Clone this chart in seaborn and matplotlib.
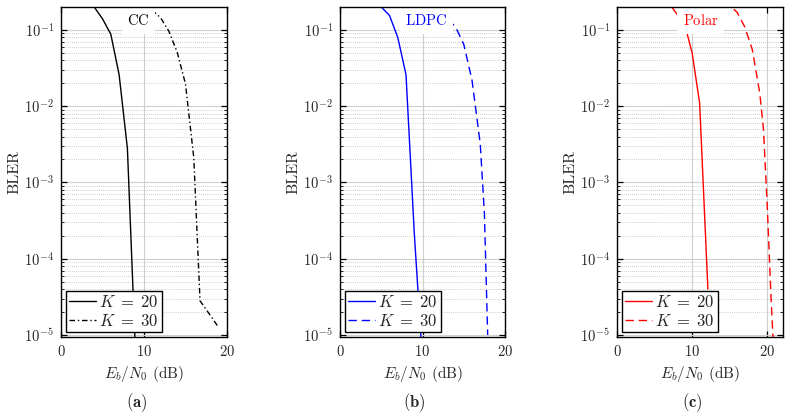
import numpy as np
import pandas as pd
import seaborn as sns
import matplotlib.pyplot as plt

# data (Eb/N0 in dB, BLER)
cc_k20_snr = [3, 4, 5, 6, 7, 8, 9]
cc_k20_bler = [0.4, 0.2, 0.14, 0.088, 0.026, 2.8e-3, 5e-6]
cc_k30_snr = [10, 11, 12, 13, 14, 15, 16, 16.75, 18, 19]
cc_k30_bler = [0.28, 0.18, 0.145, 0.096, 0.051, 0.0195, 2.1e-3, 2.8e-5, 1.8e-5, 1.25e-5]

ldpc_k20_snr = [4, 5, 6, 7, 8, 9, 10]
ldpc_k20_bler = [0.3, 0.2, 0.155, 0.08, 0.026, 2.2e-4, 4.5e-6]
ldpc_k30_snr = [11, 12, 13, 14, 15, 16, 17, 17.5, 17.9]
ldpc_k30_bler = [0.25, 0.18, 0.14, 0.11, 0.065, 0.022, 3.2e-3, 4e-4, 1e-5]

polar_k20_snr = [6, 7, 8, 9, 10, 11, 12.1]
polar_k20_bler = [0.35, 0.22, 0.16, 0.12, 0.05, 0.011, 4e-5]
polar_k30_snr = [14, 15, 16, 17, 18, 19, 19.5, 20, 20.5, 20.8]
polar_k30_bler = [0.3, 0.21, 0.17, 0.11, 0.056, 0.015, 5e-3, 5e-4, 3.2e-5, 8e-6]

codes = ['CC', 'LDPC', 'Polar']
colors = ['black', 'blue', 'red']
captions = ['a', 'b', 'c']
xmax = [20, 20, 22.1]
label_x = [8.0, 7.9, 8.75]

sns.set_theme(context='paper', style='ticks')
plt.rcParams['font.family'] = ['cmr10', 'DejaVu Serif']
plt.rcParams['mathtext.fontset'] = 'cm'
plt.rcParams['axes.formatter.use_mathtext'] = True
plt.rcParams['axes.unicode_minus'] = True

fig = plt.figure(figsize=(7.92, 4.2), dpi=100)
W, H = 792, 420
boxes = [(61, 227), (340, 505), (617, 783)]
top_px, bot_px = 7, 337

series = [
    (cc_k20_snr, cc_k20_bler, cc_k30_snr, cc_k30_bler, (0, (4, 2, 1, 2))),
    (ldpc_k20_snr, ldpc_k20_bler, ldpc_k30_snr, ldpc_k30_bler, (0, (6, 3.5))),
    (polar_k20_snr, polar_k20_bler, polar_k30_snr, polar_k30_bler, (0, (6, 3.5))),
]
caption_px = [137, 414, 692]

for i, (x1, y1, x2, y2, ls2) in enumerate(series):
    l, r = boxes[i]
    ax = fig.add_axes([l / W, (H - bot_px) / H, (r - l) / W, (bot_px - top_px) / H])
    ax.set_axisbelow(True)
    c = colors[i]
    sns.lineplot(x=x1, y=y1, ax=ax, color=c, lw=1.0, linestyle='-',
                 label=r'$K\;=\;20$', estimator=None)
    sns.lineplot(x=x2, y=y2, ax=ax, color=c, lw=1.0, linestyle=ls2,
                 label=r'$K\;=\;30$', estimator=None)
    ax.set_yscale('log')
    ax.set_ylim(9.4e-6, 0.2)
    ax.set_xlim(0, xmax[i])
    ax.set_xticks([0, 10, 20])
    ax.grid(which='major', color='#cfcfcf', lw=0.8, ls='-')
    ax.grid(which='minor', axis='y', color='#bdbdbd', lw=0.6, ls=(0, (1, 1.5)))
    ax.tick_params(which='both', direction='in', top=True, right=True,
                   labelsize=10.5, color='black', pad=5)
    ax.tick_params(which='major', length=4, width=0.9)
    ax.tick_params(which='minor', length=2, width=0.6)
    for s in ax.spines.values():
        s.set_color('black')
        s.set_linewidth(1.0)
        s.set_zorder(10)
    ax.set_xlabel('$E_b/N_0$ (dB)', fontsize=11)
    ax.set_ylabel('BLER', fontsize=11.5, labelpad=2)
    # code name in a white box, extra room on its right like the original node
    ax.text(label_x[i], 0.132, codes[i] + r'$\quad$', color=c, fontsize=10.5,
            ha='left', va='center', zorder=5,
            bbox=dict(facecolor='white', edgecolor='none', pad=4))
    leg = ax.legend(loc='lower left', fontsize=12, frameon=True, fancybox=False,
                    edgecolor='black', framealpha=1, handlelength=1.6,
                    handletextpad=0.2, labelspacing=0.15, borderpad=0.2,
                    borderaxespad=0.3)
    leg.get_frame().set_linewidth(1.0)
    leg.set_zorder(6)
    fig.text(caption_px[i] / W, 1 - 403 / H, r'($\mathbf{%s}$)' % captions[i],
             ha='center', va='center', fontsize=12)

fig.savefig('out.png', dpi=100)
